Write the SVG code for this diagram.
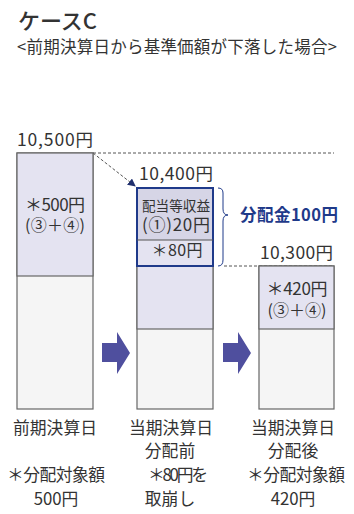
<svg xmlns="http://www.w3.org/2000/svg" width="354" height="514" viewBox="0 0 354 514">
<defs>
<style>
text{font-family:"Noto Sans CJK JP","Noto Sans",sans-serif;fill:#333}
.box{stroke:#666;stroke-width:1.2}
.up{fill:#e4e3f1}
.low{fill:#f5f5f5}
.c{text-anchor:middle}
.b{font-size:16.8px}
.dash{stroke:#555;stroke-width:1;stroke-dasharray:3 2;fill:none}
.blk{fill:#4f4f9e}
</style>
<marker id="ah" markerWidth="8" markerHeight="8" refX="7" refY="4" orient="auto" markerUnits="userSpaceOnUse">
<path d="M0,0 L8,4 L0,8 Z" fill="#1f2f6e"/>
</marker>
</defs>
<rect width="354" height="514" fill="#fff"/>
<text x="18" y="29" font-size="22" font-weight="500" textLength="79">ケースC</text>
<text x="17" y="53" font-size="16.5" textLength="320">&lt;前期決算日から基準価額が下落した場合&gt;</text>

<g id="connectors">
<path class="dash" d="M93,153 H334"/>
<path class="dash" d="M93,153 L135,186" stroke="#1f2f6e" marker-end="url(#ah)"/>
<path class="dash" d="M224,266 H334"/>
<path d="M218,188 Q223,188 223,193 V209 Q223,215 228,215 Q223,215 223,221 V260 Q223,266 218,266" fill="none" stroke="#1f3a8a" stroke-width="1"/>
<path class="blk" d="M102,343 H117 V332 L130,353 L117,374 V362 H102 Z"/>
<path class="blk" d="M223,343 H238 V332 L251,353 L238,374 V362 H223 Z"/>
</g>

<g id="box1">
<rect class="box low" x="17" y="153" width="76" height="256"/>
<rect class="box up" x="17" y="153" width="76" height="123"/>
<text x="17" y="146" font-size="17.5" textLength="76">10,500円</text>
<text class="c" x="55" y="211" font-size="17" textLength="60">＊500円</text>
<text class="c" x="55" y="231" font-size="16" textLength="60">(③＋④)</text>
<text class="c b" x="55" y="434">前期決算日</text>
<text class="c b" x="56" y="481" textLength="98">＊分配対象額</text>
<text class="c b" x="56" y="505">500円</text>
</g>

<g id="box2">
<rect class="box low" x="137" y="188" width="76" height="221"/>
<rect class="box up" x="137" y="188" width="76" height="141"/>
<rect x="137" y="188" width="76" height="52" fill="#d6d5e6"/>
<rect x="137" y="188" width="76" height="78" fill="none" stroke="#1f3a8a" stroke-width="2"/>
<line x1="137" y1="240" x2="213" y2="240" stroke="#555" stroke-width="1"/>
<text x="139" y="180" font-size="17.5" textLength="74">10,400円</text>
<text class="c" x="176" y="211" font-size="13.6" textLength="68">配当等収益</text>
<text class="c" x="176" y="231" font-size="17" textLength="68">(①)20円</text>
<text class="c" x="177" y="256" font-size="16" textLength="51">＊80円</text>
<text x="240" y="221" font-size="16.5" font-weight="600" textLength="98" style="fill:#1f3a8a">分配金100円</text>
<text class="c b" x="171" y="434">当期決算日</text>
<text class="c b" x="170" y="457">分配前</text>
<text class="c b" x="178" y="481" textLength="60">＊80円を</text>
<text class="c b" x="170" y="505">取崩し</text>
</g>

<g id="box3">
<rect class="box low" x="259" y="266" width="75" height="143"/>
<rect class="box up" x="259" y="266" width="75" height="63"/>
<text x="260" y="259" font-size="17.5" textLength="73">10,300円</text>
<text class="c" x="297" y="295" font-size="17" textLength="61">＊420円</text>
<text class="c" x="297" y="316" font-size="16" textLength="59">(③＋④)</text>
<text class="c b" x="293" y="434">当期決算日</text>
<text class="c b" x="293" y="457">分配後</text>
<text class="c b" x="296" y="481" textLength="98">＊分配対象額</text>
<text class="c b" x="293" y="505">420円</text>
</g>
</svg>
